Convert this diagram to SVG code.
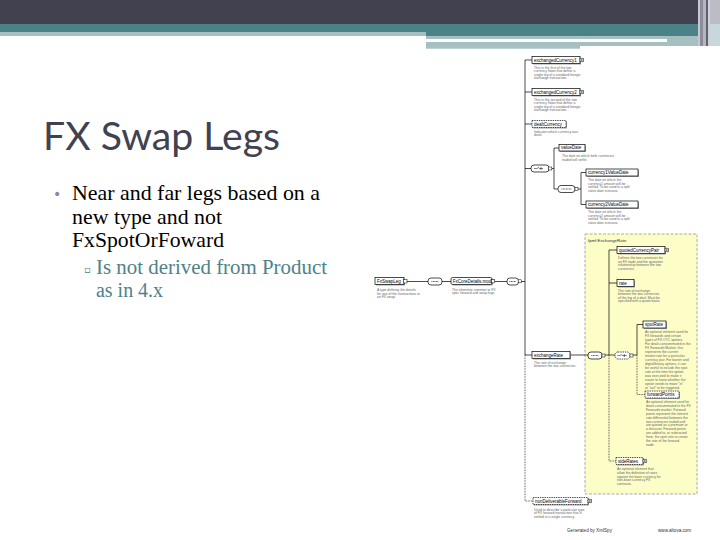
<svg xmlns="http://www.w3.org/2000/svg" width="720" height="540" viewBox="0 0 720 540">
<style>
.title{font-family:Lato,"Open Sans",sans-serif;font-size:38px;fill:#41414f}
.b1{font-family:"Liberation Serif","Times New Roman",serif;font-size:21px;fill:#000}
.b2{font-family:"Liberation Serif","Times New Roman",serif;font-size:20px;fill:#4e8289}
.box{fill:#fff;stroke:#000;stroke-width:0.7}
.opt{stroke-dasharray:1.4 0.9}
.sh{fill:#a0a0a0}
.lbl{font-family:"Liberation Sans",Arial,sans-serif;font-size:4.5px;fill:#000}
.desc{font-family:"Liberation Sans",Arial,sans-serif;font-size:3.4px;fill:#666}
.ln{stroke:#000;stroke-width:0.7;fill:none}
.dt{stroke-dasharray:0.8 0.8}
.comp{fill:#fff;stroke:#000;stroke-width:0.7}
.sq{fill:#fff;stroke:#000;stroke-width:0.5}
.foot{font-family:"Liberation Sans",Arial,sans-serif;font-size:4.6px;fill:#333}
</style>
<rect width="720" height="540" fill="#fff"/>
<g id="header">
<rect x="0" y="0" width="698" height="24" fill="#41414f"/>
<rect x="0" y="24" width="698" height="8" fill="#4a8287"/>
<rect x="0" y="32" width="426" height="4" fill="#a6bfc1"/>
<rect x="426" y="32" width="272" height="4" fill="#4a8287"/>
<rect x="426" y="36" width="272" height="3" fill="#a6bfc1"/>
<rect x="667" y="39" width="31" height="3" fill="#a6bfc1"/>
<rect x="426" y="42" width="154" height="6.7" fill="#a6bfc1"/>
<rect x="580" y="42" width="127" height="4" fill="#a6bfc1"/>
<rect x="698" y="0" width="2" height="46" fill="#c8c8d0"/>
<rect x="700" y="0" width="3" height="46" fill="#8c8c9c"/>
<rect x="703" y="0" width="3" height="46" fill="#b0b8c0"/>
<rect x="706" y="0" width="2" height="46" fill="#60606e"/>
<rect x="708" y="0" width="2" height="46" fill="#d0d0d8"/>
<rect x="710" y="0" width="10" height="24" fill="#bcbcc6"/>
<rect x="710" y="24" width="10" height="22" fill="#c8d8da"/>
</g>
<g id="slide-text">
<text class="title" x="43" y="150" textLength="237" lengthAdjust="spacingAndGlyphs">FX Swap Legs</text>
<text x="53" y="199" font-family="DejaVu Sans,sans-serif" font-size="14" fill="#9b7fad">•</text>
<text class="b1" font-family="Liberation Serif, serif" x="72" y="200" textLength="248" lengthAdjust="spacingAndGlyphs">Near and far legs based on a</text>
<text class="b1" font-family="Liberation Serif, serif" x="72" y="223.5" textLength="150" lengthAdjust="spacingAndGlyphs">new type and not</text>
<text class="b1" font-family="Liberation Serif, serif" x="72" y="247" textLength="152" lengthAdjust="spacingAndGlyphs">FxSpotOrFoward</text>
<text x="84" y="273" font-family="DejaVu Sans,sans-serif" font-size="10" fill="#4e8289">▫</text>
<text class="b2" font-family="Liberation Serif, serif" x="96" y="274" textLength="231" lengthAdjust="spacingAndGlyphs">Is not derived from Product</text>
<text class="b2" font-family="Liberation Serif, serif" x="96" y="297" textLength="67" lengthAdjust="spacingAndGlyphs">as in 4.x</text>
</g>
<g id="type-box">
<rect x="585" y="234" width="112" height="260" fill="#fdfdc8" stroke="#8a8a8a" stroke-width="0.7" stroke-dasharray="3 1.5"/>
<text x="588" y="242" font-family="Liberation Sans,Arial,sans-serif" font-size="4.4" fill="#333">fpml:ExchangeRate</text>
</g>
<g id="connectors">
<path class="ln" d="M407 281.5H428M442 281.5H451M495 281.5H507M521 281.5H525"/>
<path class="ln" d="M525 60V355M525 60H532M525 92H532M525 124H532M525 168.5H531M525 355H532"/>
<path class="ln dt" d="M525 355V501H533"/>
<path class="ln" d="M552 168.5H554M554 148V189M554 148H559M554 189H558"/>
<path class="ln" d="M578 189H581M581 172.5V204.5M581 172.5H586M581 204.5H586"/>
<path class="ln" d="M570 355H588M605 355H609M609 250V355M609 250H617M609 283H617M609 355H615"/>
<path class="ln dt" d="M609 355V461H616"/>
<path class="ln" d="M633 355H637M637 324.5V355M637 324.5H643"/>
<path class="ln dt" d="M637 355V394.5H645"/>
</g>
<g id="FxSwapLeg">
<rect class="sh" x="376" y="278.5" width="29" height="7"/>
<rect class="box" x="375" y="277.5" width="29" height="7"/>
<text class="lbl" x="377" y="282.6">FxSwapLeg</text>
<rect class="sq" x="403.5" y="279.5" width="3.5" height="3.5"/>
<text class="desc" x="377" y="291">A type defining the details</text>
<text class="desc" x="377" y="294.6">for one of the transactions in</text>
<text class="desc" x="377" y="298.2">an FX swap.</text>
</g>
<g id="seq1">
<rect class="comp" x="428" y="278" width="14" height="7" rx="3"/>
<path d="M431.5 281.5h7" stroke="#000" stroke-width="0.8" stroke-dasharray="0.8 0.7"/>
</g>
<g id="FxCoreDetails.model">
<rect class="sh" x="452" y="278.5" width="41" height="7" rx="1.5"/>
<rect class="box" x="451" y="277.5" width="41" height="7" rx="1.5"/>
<text class="lbl" x="452.8" y="282.6" font-size="4.1">FxCoreDetails.model</text>
<rect class="sq" x="491.5" y="279.7" width="3.2" height="3.2"/>
<text class="desc" x="452" y="290.5">The elements common to FX</text>
<text class="desc" x="452" y="294.1">spot, forward and swap legs.</text>
</g>
<g id="seq2">
<rect class="comp" x="507" y="278" width="11.5" height="7" rx="3"/>
<path d="M509.5 281.5h6.5" stroke="#000" stroke-width="0.8" stroke-dasharray="0.8 0.7"/>
<rect class="sq" x="518.2" y="279.8" width="3" height="3"/>
</g>
<g id="exchangedCurrency1">
<rect class="sh" x="533" y="57.5" width="48" height="7"/>
<rect class="box" x="532" y="56.5" width="48" height="7"/>
<text class="lbl" x="534" y="61.6">exchangedCurrency1</text>
<rect class="sq" x="580" y="58.2" width="3.6" height="3.6"/>
<path d="M580.6 60h2.4M581.8 58.8v2.4" stroke="#000" stroke-width="0.4"/>
<text class="desc" x="534" y="68.5">This is the first of the two</text>
<text class="desc" x="534" y="72.1">currency flows that define a</text>
<text class="desc" x="534" y="75.7">single leg of a standard foreign</text>
<text class="desc" x="534" y="79.3">exchange transaction.</text>
</g>
<g id="exchangedCurrency2">
<rect class="sh" x="533" y="89.5" width="48" height="7"/>
<rect class="box" x="532" y="88.5" width="48" height="7"/>
<text class="lbl" x="534" y="93.6">exchangedCurrency2</text>
<rect class="sq" x="580" y="90.2" width="3.6" height="3.6"/>
<path d="M580.6 92h2.4M581.8 90.8v2.4" stroke="#000" stroke-width="0.4"/>
<text class="desc" x="534" y="100.5">This is the second of the two</text>
<text class="desc" x="534" y="104.1">currency flows that define a</text>
<text class="desc" x="534" y="107.7">single leg of a standard foreign</text>
<text class="desc" x="534" y="111.3">exchange transaction.</text>
</g>
<g id="dealtCurrency">
<rect class="sh" x="533" y="121.5" width="34" height="7"/>
<rect class="box opt" x="532" y="120.5" width="34" height="7"/>
<text class="lbl" x="534" y="125.6">dealtCurrency</text>
<text class="desc" x="534" y="132.5">Indicates which currency was</text>
<text class="desc" x="534" y="136.1">dealt.</text>
</g>
<g id="choice1">
<rect class="comp" x="531" y="165" width="18" height="7" rx="3"/>
<path d="M534 168.5h3l2-1.5M539 168.5h4M541 167v3" stroke="#000" stroke-width="0.5" fill="none"/>
<rect class="sq" x="548.8" y="167" width="3" height="3"/>
</g>
<g id="valueDate">
<rect class="sh" x="560" y="145.5" width="26" height="6.5"/>
<rect class="box" x="559" y="144.5" width="26" height="6.5"/>
<text class="lbl" x="561" y="149.4">valueDate</text>
<text class="desc" x="562" y="157">The date on which both currencies</text>
<text class="desc" x="562" y="160.6">traded will settle.</text>
</g>
<g id="seq3">
<rect class="comp" x="558" y="185.5" width="17" height="7" rx="3"/>
<path d="M561.5 189h10" stroke="#000" stroke-width="0.8" stroke-dasharray="0.8 0.7"/>
<rect class="sq" x="575" y="187.5" width="3" height="3"/>
</g>
<g id="currency1ValueDate">
<rect class="sh" x="587" y="170" width="52" height="7"/>
<rect class="box" x="586" y="169" width="52" height="7"/>
<text class="lbl" x="588" y="174.1">currency1ValueDate</text>
<text class="desc" x="588" y="181">The date on which the</text>
<text class="desc" x="588" y="184.6">currency1 amount will be</text>
<text class="desc" x="588" y="188.2">settled. To be used in a split</text>
<text class="desc" x="588" y="191.8">value date scenario.</text>
</g>
<g id="currency2ValueDate">
<rect class="sh" x="587" y="202" width="52" height="7"/>
<rect class="box" x="586" y="201" width="52" height="7"/>
<text class="lbl" x="588" y="206.1">currency2ValueDate</text>
<text class="desc" x="588" y="213">The date on which the</text>
<text class="desc" x="588" y="216.6">currency2 amount will be</text>
<text class="desc" x="588" y="220.2">settled. To be used in a split</text>
<text class="desc" x="588" y="223.8">value date scenario.</text>
</g>
<g id="exchangeRate">
<rect class="sh" x="533" y="352.5" width="38" height="7"/>
<rect class="box" x="532" y="351.5" width="38" height="7"/>
<text class="lbl" x="534" y="356.6">exchangeRate</text>
<text class="desc" x="534" y="363.5">The rate of exchange</text>
<text class="desc" x="534" y="367.1">between the two currencies.</text>
</g>
<g id="seq4">
<rect class="comp" x="588" y="352" width="14" height="7" rx="3"/>
<path d="M591.5 355.5h7" stroke="#000" stroke-width="0.8" stroke-dasharray="0.8 0.7"/>
<rect class="sq" x="602" y="354" width="3" height="3"/>
</g>
<g id="quotedCurrencyPair">
<rect class="sh" x="618" y="247.5" width="48" height="7"/>
<rect class="box" x="617" y="246.5" width="48" height="7"/>
<text class="lbl" x="619" y="251.6">quotedCurrencyPair</text>
<rect class="sq" x="665" y="248.2" width="3.6" height="3.6"/>
<path d="M665.6 250h2.4M666.8 248.8v2.4" stroke="#000" stroke-width="0.4"/>
<text class="desc" x="618" y="259">Defines the two currencies for</text>
<text class="desc" x="618" y="262.6">an FX trade and the quotation</text>
<text class="desc" x="618" y="266.2">relationship between the two</text>
<text class="desc" x="618" y="269.8">currencies.</text>
</g>
<g id="rate">
<rect class="sh" x="618" y="280.5" width="17" height="7"/>
<rect class="box" x="617" y="279.5" width="17" height="7"/>
<text class="lbl" x="619" y="284.6">rate</text>
<text class="desc" x="618" y="291.5">The rate of exchange</text>
<text class="desc" x="618" y="295.1">between the two currencies</text>
<text class="desc" x="618" y="298.7">of the leg of a deal. Must be</text>
<text class="desc" x="618" y="302.3">specified with a quote basis.</text>
</g>
<g id="choice2">
<rect class="comp opt" x="615" y="352" width="15" height="7" rx="3"/>
<path d="M617.5 355.5h2.5l1.8-1.3M621.8 355.5h5M624.3 354v3" stroke="#000" stroke-width="0.5" fill="none"/>
<rect class="sq" x="630" y="354" width="3" height="3"/>
</g>
<g id="spotRate">
<rect class="sh" x="644" y="322" width="23" height="7"/>
<rect class="box" x="643" y="321" width="23" height="7"/>
<text class="lbl" x="645" y="326.1">spotRate</text>
<text class="desc" x="645" y="333">An optional element used for</text>
<text class="desc" x="645" y="337">FX forwards and certain</text>
<text class="desc" x="645" y="341">types of FX OTC options.</text>
<text class="desc" x="645" y="345">For deals consummated in the</text>
<text class="desc" x="645" y="349">FX Forwards Market, this</text>
<text class="desc" x="645" y="353">represents the current</text>
<text class="desc" x="645" y="357">market rate for a particular</text>
<text class="desc" x="645" y="361">currency pair. For barrier and</text>
<text class="desc" x="645" y="365">digital/binary options, it can</text>
<text class="desc" x="645" y="369">be useful to include the spot</text>
<text class="desc" x="645" y="373">rate at the time the option</text>
<text class="desc" x="645" y="377">was executed to make it</text>
<text class="desc" x="645" y="381">easier to know whether the</text>
<text class="desc" x="645" y="385">option needs to move "in"</text>
<text class="desc" x="645" y="389">or "out" to be triggered.</text>
</g>
<g id="forwardPoints">
<rect class="sh" x="646" y="392" width="34" height="7"/>
<rect class="box opt" x="645" y="391" width="34" height="7"/>
<text class="lbl" x="647" y="396.1">forwardPoints</text>
<text class="desc" x="646" y="403">An optional element used for</text>
<text class="desc" x="646" y="406.9">deals consummated in the FX</text>
<text class="desc" x="646" y="410.8">Forwards market. Forward</text>
<text class="desc" x="646" y="414.7">points represent the interest</text>
<text class="desc" x="646" y="418.6">rate differential between the</text>
<text class="desc" x="646" y="422.5">two currencies traded and</text>
<text class="desc" x="646" y="426.4">are quoted as a premium or</text>
<text class="desc" x="646" y="430.3">a discount. Forward points</text>
<text class="desc" x="646" y="434.2">are added to, or subtracted</text>
<text class="desc" x="646" y="438.1">from, the spot rate to create</text>
<text class="desc" x="646" y="442">the rate of the forward</text>
<text class="desc" x="646" y="445.9">trade.</text>
</g>
<g id="sideRates">
<rect class="sh" x="617" y="458.5" width="27" height="7"/>
<rect class="box opt" x="616" y="457.5" width="27" height="7"/>
<text class="lbl" x="618" y="462.6">sideRates</text>
<rect class="sq" x="643" y="459.2" width="3.6" height="3.6"/>
<path d="M643.6 461h2.4M644.8 459.8v2.4" stroke="#000" stroke-width="0.4"/>
<text class="desc" x="617" y="470">An optional element that</text>
<text class="desc" x="617" y="473.8">allow the definition of rates</text>
<text class="desc" x="617" y="477.6">against the base currency for</text>
<text class="desc" x="617" y="481.4">non-base currency FX</text>
<text class="desc" x="617" y="485.2">contracts.</text>
</g>
<g id="nonDeliverableForward">
<rect class="sh" x="534" y="498.5" width="55" height="7"/>
<rect class="box opt" x="533" y="497.5" width="55" height="7"/>
<text class="lbl" x="535" y="502.6">nonDeliverableForward</text>
<rect class="sq" x="588" y="499.2" width="3.6" height="3.6"/>
<path d="M588.6 501h2.4M589.8 499.8v2.4" stroke="#000" stroke-width="0.4"/>
<text class="desc" x="534" y="510.5">Used to describe a particular type</text>
<text class="desc" x="534" y="514.1">of FX forward transaction that is</text>
<text class="desc" x="534" y="517.7">settled in a single currency.</text>
</g>
<g id="footer">
<text class="foot" x="567" y="532">Generated by XmlSpy</text>
<text class="foot" x="658" y="532">www.altova.com</text>
</g>
</svg>
